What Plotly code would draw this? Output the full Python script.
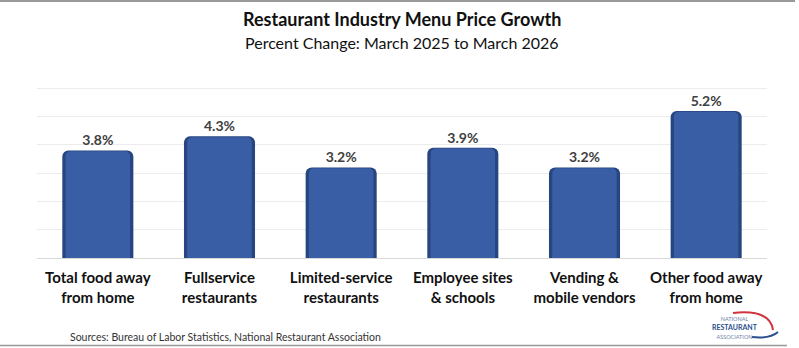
import plotly.graph_objects as go

categories = ["Total food away<br>from home", "Fullservice<br>restaurants", "Limited-service<br>restaurants",
              "Employee sites<br>& schools", "Vending &<br>mobile vendors", "Other food away<br>from home"]
values = [3.8, 4.3, 3.2, 3.9, 3.2, 5.2]
labels = [f"{v:.1f}%" for v in values]

FONT = "Lato"
fig = go.Figure()
# dark edge (bevel) bar
fig.add_trace(go.Bar(x=categories, y=values, width=0.584,
                     marker=dict(color="#27457f", line=dict(width=0), cornerradius=6),
                     hoverinfo="skip"))
# main face bar
fig.add_trace(go.Bar(x=categories, y=[v - 0.03 for v in values], width=0.53,
                     marker=dict(color="#3a5ea5", line=dict(width=0), cornerradius=5),
                     text=labels, textposition="outside", cliponaxis=False,
                     textfont=dict(family=FONT, size=14, color="#404040", weight="bold")))

fig.update_layout(
    width=799, height=348, barmode="overlay", showlegend=False,
    margin=dict(l=37, r=32, t=60, b=90),
    plot_bgcolor="white", paper_bgcolor="white",
    font=dict(family=FONT),
)
fig.update_yaxes(range=[0, 7], dtick=1, showgrid=True, gridcolor="#ececec", gridwidth=1,
                 showticklabels=False, zeroline=True, zerolinecolor="#d9d9d9", zerolinewidth=1,
                 showline=False)
fig.update_xaxes(showgrid=False, showline=False, ticks="", ticklabelstandoff=9,
                 tickfont=dict(family=FONT, size=15, color="#111111", weight="bold"))

fig.add_annotation(text="<b>Restaurant Industry Menu Price Growth</b>", xref="paper", yref="paper",
                   x=0.5, y=1, yshift=60 - 19, xanchor="center", yanchor="middle", showarrow=False,
                   font=dict(family=FONT, size=18, color="#111111"))
fig.add_annotation(text="Percent Change: March 2025 to March 2026", xref="paper", yref="paper",
                   x=0.5, y=1, yshift=60 - 42, xanchor="center", yanchor="middle", showarrow=False,
                   font=dict(family=FONT, size=16, color="#111111"))
fig.add_annotation(text="Sources: Bureau of Labor Statistics, National Restaurant Association",
                   xref="paper", yref="paper", x=0, xshift=68 - 37, y=0, yshift=-(337 - 258),
                   xanchor="left", yanchor="middle", showarrow=False,
                   font=dict(family=FONT, size=10.5, color="#333333"))
# logo text (single block)
logo_text = ("<span style='font-size:5.5px;color:#6b7fa8'>NATIONAL</span><br>"
             "<b>RESTAURANT</b><br>"
             "<span style='font-size:5.5px;color:#6b7fa8'>ASSOCIATION</span>")
fig.add_annotation(text=logo_text, xref="paper", yref="paper", x=0, xshift=735 - 37, y=0,
                   yshift=-(328 - 258), xanchor="center", yanchor="middle", showarrow=False,
                   borderpad=0, font=dict(family=FONT, size=7, color="#2b4f8e"))
def px(x):
    return (x - 37) / (767 - 37)
def py(y):
    return (258 - y) / (258 - 60)
fig.add_shape(type="path", xref="paper", yref="paper",
              path=f"M {px(733)} {py(313)} Q {px(770)} {py(309)} {px(773)} {py(330)}",
              line=dict(color="#d0333d", width=2))
fig.add_shape(type="path", xref="paper", yref="paper",
              path=f"M {px(752)} {py(337)} Q {px(770)} {py(339)} {px(778)} {py(332)}",
              line=dict(color="#2b4f8e", width=2))
# frame lines
fig.add_shape(type="line", xref="paper", yref="paper", x0=px(0), x1=px(795), y0=py(1), y1=py(1),
              line=dict(color="#999999", width=2))
fig.add_shape(type="line", xref="paper", yref="paper", x0=px(0), x1=px(787), y0=py(345.5), y1=py(345.5),
              line=dict(color="#999999", width=1.5))

fig.write_html("out.html")
